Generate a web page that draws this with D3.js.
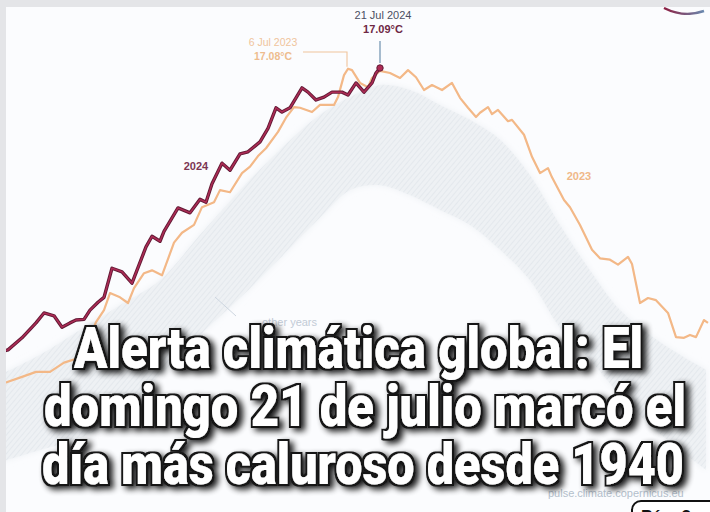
<!DOCTYPE html>
<html><head><meta charset="utf-8">
<script src="https://cdn.jsdelivr.net/npm/d3@7"></script>
<style>
html,body{margin:0;padding:0;background:#fbfcfe;overflow:hidden}
svg{display:block}
</style></head>
<body>
<svg id="c" width="710" height="512"></svg>
<script>
// ---- data (day of year, °C) ----
const days2024  = [12,16,23,30,34,39,43,47,50,54,57,61,64,68,73,78,85,88,92,94,101,107,112,115,118,123,127,132,136,142,146,150,153,157,163,166,170,174,178,183,186,190,194,198,200,202];
const temps2024 = [13.09,13.12,13.29,13.50,13.64,13.60,13.44,13.50,13.54,13.55,13.68,13.79,13.86,14.27,14.22,14.06,14.57,14.72,14.65,14.79,15.12,15.05,15.24,15.20,15.46,15.75,15.65,15.88,15.91,16.05,16.24,16.53,16.47,16.53,16.81,16.75,16.64,16.68,16.75,16.75,16.71,16.88,16.75,16.88,17.02,17.09];

const days2023  = [12,16,23,30,37,44,53,60,64,67,72,76,79,84,88,93,99,103,109,113,119,122,127,133,137,141,145,151,155,159,162,168,172,179,181,184,186,188,192,196,198,202,207,212,216,220,224,228,233,238,242,246,250,252,256,258,261,266,268,274,278,282,286,288,294,297,302,308,312,317,321,326,328,332,336,340,346,350,354,357,360,364,366];
const temps2023 = [12.63,12.67,12.74,12.81,12.81,12.94,13.02,13.51,13.68,13.92,13.86,13.78,13.99,14.20,14.24,14.17,14.63,14.77,14.88,15.13,15.20,15.37,15.34,15.61,15.70,15.85,15.96,16.19,16.39,16.54,16.53,16.47,16.57,16.57,16.68,16.99,17.08,17.06,16.88,16.82,16.95,17.05,17.02,16.95,17.06,16.96,16.78,16.85,16.78,16.88,16.67,16.53,16.40,16.46,16.54,16.44,16.50,16.34,16.36,16.15,15.84,15.61,15.68,15.55,15.23,15.13,14.88,14.53,14.41,14.39,14.32,14.43,14.33,13.78,13.85,13.82,13.64,13.30,13.29,13.33,13.30,13.54,13.50];

// envelope of the grey "other years" lines (1940-2022)
const bandDays  = [0,12,32,52,72,92,112,132,152,172,187,202,217,232,247,262,277,292,307,322,337,352,365];
const bandUpper = [12.63,12.77,13.05,13.40,13.75,14.10,14.74,15.37,15.94,16.43,16.68,16.85,16.78,16.57,16.36,16.08,15.58,14.88,14.24,13.68,13.33,13.05,12.84];
const bandLower = [11.43,11.54,11.71,11.88,12.20,12.77,13.33,13.85,14.41,14.98,15.37,15.44,15.30,15.09,14.88,14.53,14.10,13.43,12.98,12.48,12.06,11.71,11.43];

const peak2024 = {day:202, t:17.09, date:"21 Jul 2024", label:"17.09°C"};
const peak2023 = {day:186, t:17.08, date:"6 Jul 2023", label:"17.08°C"};

const titleLines = ["Alerta climática global: El","domingo 21 de julio marcó el","día más caluroso desde 1940"];

// ---- scales ----
const x = d3.scaleLinear().domain([0,365]).range([-24,706]);
const y = d3.scaleLinear().domain([11,17.5]).range([500.4,38.9]);

const svg = d3.select("#c");
const defs = svg.append("defs");

svg.append("rect").attr("width",710).attr("height",512).attr("fill","#fbfcfe");

// band texture pattern
const pat = defs.append("pattern").attr("id","hatch").attr("patternUnits","userSpaceOnUse")
  .attr("width",4).attr("height",4).attr("patternTransform","rotate(40)");
pat.append("rect").attr("width",4).attr("height",4).attr("fill","#eef1f4");
pat.append("line").attr("x1",0).attr("y1",0).attr("x2",0).attr("y2",4).attr("stroke","#d9dfe6").attr("stroke-width",1.2);
defs.append("filter").attr("id","soft").append("feGaussianBlur").attr("stdDeviation",3);
defs.append("filter").attr("id","soft2").append("feGaussianBlur").attr("stdDeviation",0.5);

const band = bandDays.map((d,i)=>({d, u:bandUpper[i], l:bandLower[i]}));
const area = d3.area().curve(d3.curveCatmullRom.alpha(0.5))
  .x(p=>x(p.d)).y0(p=>y(p.l)).y1(p=>y(p.u));
svg.append("path").datum(band).attr("d",area).attr("fill","#eef1f4").attr("filter","url(#soft)");
svg.append("path").datum(band).attr("d",area).attr("fill","url(#hatch)").attr("opacity",0.75).attr("filter","url(#soft2)");

// other years label
svg.append("line").attr("x1",215).attr("y1",297).attr("x2",236).attr("y2",316)
  .attr("stroke","#cdd6e0").attr("stroke-width",1);
svg.append("text").attr("x",262).attr("y",326).attr("font-family","Liberation Sans, Arial, sans-serif")
  .attr("font-size",11).attr("fill","#c2cbd6").text("other years");

// lines
const line = d3.line().x(p=>x(p[0])).y(p=>y(p[1]));
const d23 = days2023.map((d,i)=>[d,temps2023[i]]);
const d24 = days2024.map((d,i)=>[d,temps2024[i]]);
svg.append("path").datum(d23).attr("d",line).attr("fill","none").attr("stroke","#f3b887")
  .attr("stroke-width",2.2).attr("stroke-linejoin","round").attr("filter","url(#soft2)");
svg.append("path").datum(d24).attr("d",line).attr("fill","none").attr("stroke","#621a35")
  .attr("stroke-width",3.4).attr("stroke-linejoin","round").attr("filter","url(#soft2)");
svg.append("path").datum(d24).attr("d",line).attr("fill","none").attr("stroke","#ad2b55")
  .attr("stroke-width",1.5).attr("stroke-linejoin","round");
svg.append("circle").attr("cx",x(peak2024.day)).attr("cy",y(peak2024.t)).attr("r",3.2).attr("fill","#ad2b55").attr("stroke","#621a35").attr("stroke-width",1);

// series labels
svg.append("text").attr("x",196).attr("y",170).attr("text-anchor","middle")
  .attr("font-family","Liberation Sans, Arial, sans-serif").attr("font-weight","bold")
  .attr("font-size",11).attr("fill","#7c3653").text("2024");
svg.append("text").attr("x",579).attr("y",180).attr("text-anchor","middle")
  .attr("font-family","Liberation Sans, Arial, sans-serif").attr("font-weight","bold")
  .attr("font-size",11).attr("fill","#f0b888").text("2023");

// annotations
const ann = svg.append("g").attr("font-family","Liberation Sans Narrow, Liberation Sans, Arial, sans-serif").attr("text-anchor","middle");
ann.append("line").attr("x1",x(peak2024.day)).attr("x2",x(peak2024.day)).attr("y1",41).attr("y2",y(peak2024.t)-5)
  .attr("stroke","#6d8fae").attr("stroke-width",1.2);
ann.append("text").attr("x",383).attr("y",19).attr("font-size",11).attr("fill","#4b4f63").text(peak2024.date);
ann.append("text").attr("x",383).attr("y",33).attr("font-size",11).attr("font-weight","bold").attr("fill","#6e2744").text(peak2024.label);
ann.append("path").attr("d",`M303,52H${x(peak2023.day)-1}V${y(peak2023.t)-2}`).attr("fill","none")
  .attr("stroke","#f0c49c").attr("stroke-width",1.1);
ann.append("text").attr("x",273).attr("y",46).attr("font-size",10.5).attr("fill","#f0c49c").text(peak2023.date);
ann.append("text").attr("x",273).attr("y",60).attr("font-size",10.5).attr("font-weight","bold").attr("fill","#eebc8e").text(peak2023.label);

// source
svg.append("text").attr("x",548).attr("y",497).attr("font-family","Liberation Sans, Arial, sans-serif")
  .attr("font-size",11).attr("fill","#b3bfcc").text("pulse.climate.copernicus.eu");

// top-right logo fragment
const lg = defs.append("linearGradient").attr("id","lg").attr("x1","0").attr("x2","1");
lg.append("stop").attr("offset","0").attr("stop-color","#8c1d40");
lg.append("stop").attr("offset","1").attr("stop-color","#6a8ab0");
svg.append("path").attr("d","M664,8 Q684,18 704,11").attr("fill","none").attr("stroke","url(#lg)").attr("stroke-width",2.5).attr("filter","url(#soft2)");

// grey border
svg.append("rect").attr("x",0).attr("y",0).attr("width",710).attr("height",7).attr("fill","#e4e5e8");
svg.append("rect").attr("x",0).attr("y",0).attr("width",6).attr("height",512).attr("fill","#e4e5e8");

// title: white glyphs, black outline, soft drop shadow (one text per line)
const f = defs.append("filter").attr("id","tsh").attr("filterUnits","userSpaceOnUse")
  .attr("x",0).attr("y",0).attr("width",710).attr("height",512);
f.append("feMorphology").attr("in","SourceAlpha").attr("operator","dilate").attr("radius",2.4).attr("result","out");
f.append("feGaussianBlur").attr("in","out").attr("stdDeviation",3).attr("result","b");
f.append("feOffset").attr("in","b").attr("dx",4).attr("dy",3).attr("result","o");
f.append("feComponentTransfer").attr("in","o").attr("result","sh").append("feFuncA").attr("type","linear").attr("slope",0.9);
f.append("feFlood").attr("flood-color","#141414").attr("result","k");
f.append("feComposite").attr("in","k").attr("in2","out").attr("operator","in").attr("result","outline");
const fm = f.append("feMerge");
fm.append("feMergeNode").attr("in","sh"); fm.append("feMergeNode").attr("in","outline"); fm.append("feMergeNode").attr("in","SourceGraphic");

const titleSpec = [{y:368, x0:72, x1:645},{y:426, x0:42, x1:688},{y:484, x0:40, x1:686}];
const tg = svg.append("g").attr("filter","url(#tsh)")
  .attr("font-family","Roboto, 'Open Sans', sans-serif").attr("font-weight",900).attr("font-size",57)
  .attr("text-anchor","middle");
titleLines.forEach((t,i)=>{
  const s = titleSpec[i];
  tg.append("text").attr("x",(s.x0+s.x1)/2).attr("y",s.y)
    .attr("textLength",s.x1-s.x0-4).attr("lengthAdjust","spacingAndGlyphs")
    .attr("fill","#ffffff").text(t);
});

// page tag
svg.append("rect").attr("x",632).attr("y",501).attr("width",100).attr("height",30).attr("rx",9)
  .attr("fill","#ffffff").attr("stroke","#111").attr("stroke-width",2);
svg.append("text").attr("x",641).attr("y",522).attr("font-family","Liberation Sans, Arial, sans-serif")
  .attr("font-weight","bold").attr("font-size",17).attr("fill","#111").text("Pág. 3");
</script>
</body></html>
